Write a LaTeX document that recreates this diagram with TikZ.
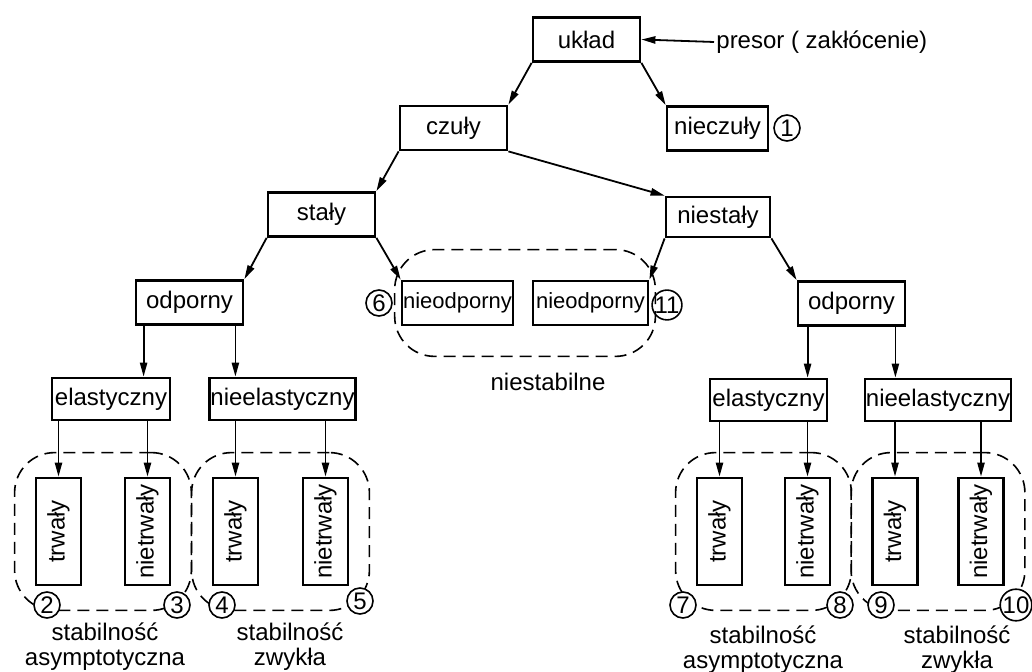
\documentclass[tikz,border=0pt]{standalone}
\usepackage{fontspec}
\setmainfont{Liberation Sans}
\usepackage{tikz}
\usetikzlibrary{arrows.meta,positioning,fit,calc}

\begin{document}
\begin{tikzpicture}[
  x=0.5pt, y=-0.5pt,
  font=\fontsize{12}{12.5}\selectfont,
  box/.style={rectangle, draw, line width=1.4pt, minimum width=#1, minimum height=22pt,
              inner sep=0.5pt, align=center},
  box/.default=53.5pt,
  vbox/.style={box=53.5pt, minimum height=22.5pt, rotate=90},
  num/.style={circle, draw, line width=0.8pt, minimum size=13pt, inner sep=0pt},
  a/.style={-{Triangle[length=7pt, width=3.6pt]}, line width=0.9pt},
  grp/.style={rectangle, draw, dash pattern=on 6pt off 3.5pt, line width=0.8pt,
              rounded corners=20pt},
  lab/.style={align=center, inner sep=1pt},
  tight/.style={font=\fontsize{11}{12}\selectfont},
]
\useasboundingbox (0,0) rectangle (1032,672);

% ---- top of the tree
\node[box] (uklad) at (586.5,39.5) {układ};
\node[lab, anchor=west] (presor) at (714,42) {presor ( zakłócenie)};
\draw[a] (presor.west) -- (uklad.east);

\node[box] (czuly) at (453.5,128) {czuły};
\node[box=50.5pt] (nieczuly) at (717.5,128.5) {nieczuły};
\node[num] (n1) at (787,128) {1};
\draw[a] (uklad.south west) -- (czuly.north east);
\draw[a] (uklad.south east) -- (nieczuly.north west);

\node[box] (staly) at (321.5,214.5) {stały};
\node[box=52pt, minimum height=20pt] (niestaly) at (718,217) {niestały};
\draw[a] (czuly.south west) -- (staly.north east);
\draw[a] (czuly.south east) -- (niestaly.north west);

% ---- odporny / nieodporny
\node[box] (odpL) at (189.5,302.5) {odporny};
\node[box=54.5pt, tight] (nieodpL) at (457.5,303) {nieodporny};
\node[box=57.5pt, tight] (nieodpR) at (590.5,303) {nieodporny};
\node[box] (odpR) at (851.5,303.5) {odporny};
\draw[a] (staly.south west) -- (odpL.north east);
\draw[a] (staly.south east) -- (nieodpL.north west);
\draw[a] (niestaly.south west) -- (nieodpR.north east);
\draw[a] (niestaly.south east) -- (odpR.north west);

\node[num] (n6) at (379,303) {6};
\node[num] (n11) at (667,305) {11};
\node[grp, fit=(nieodpL)(nieodpR), inner xsep=3pt, inner ysep=15pt] (gmid) {};
\node[lab] (niestab) at (548,382) {niestabilne};

% ---- elastyczny / nieelastyczny
\node[box=59pt, minimum height=21pt] (elaL) at (111,399) {elastyczny};
\node[box=69.5pt, minimum height=21pt] (nelaL) at (282.5,399) {nieelastyczny};
\node[box=58.5pt, minimum height=21pt] (elaR) at (768.5,400) {elastyczny};
\node[box=72pt, minimum height=21pt] (nelaR) at (938,400) {nieelastyczny};

\draw[a] ([xshift=4.5pt]odpL.south west) -- ([xshift=4.5pt]odpL.south west |- elaL.north);
\draw[a] ([xshift=-4.5pt]odpL.south east) -- ([xshift=-4.5pt]odpL.south east |- nelaL.north);
\draw[a] ([xshift=5.5pt]odpR.south west) -- ([xshift=5.5pt]odpR.south west |- elaR.north);
\draw[a] ([xshift=-5.5pt]odpR.south east) -- ([xshift=-5.5pt]odpR.south east |- nelaR.north);

% ---- trwały / nietrwały, one pair under each parent
\foreach \n/\x/\t/\p in {trwL1/58.5/trwały/elaL, nietL1/147.5/nietrwały/elaL,
                         trwL2/235.5/trwały/nelaL, nietL2/325.5/nietrwały/nelaL,
                         trwR1/719.5/trwały/elaR, nietR1/807.5/nietrwały/elaR,
                         trwR2/895/trwały/nelaR, nietR2/981/nietrwały/nelaR} {
  \node[vbox] (\n) at (\x,531.5) {\t};
  \draw[a] (\p.south -| \n.east) -- (\n.east);
}

\node[grp, fit=(trwL1)(nietL1), inner xsep=10pt, inner ysep=12pt] (gL1) {};
\node[grp, fit=(trwL2)(nietL2), inner xsep=10pt, inner ysep=12pt] (gL2) {};
\node[grp, fit=(trwR1)(nietR1), inner xsep=10pt, inner ysep=12pt] (gR1) {};
\node[grp, fit=(trwR2)(nietR2), inner xsep=10pt, inner ysep=12pt] (gR2) {};

\foreach \n/\x/\y in {2/47/605, 3/177/605, 4/222/605, 5/360/601,
                      7/683/605, 8/840/605, 9/881/605, 10/1016/605} {
  \node[num, fill=white] (n\n) at (\x,\y) {\n};
}

% ---- what each group means
\node[lab] (stabL1) at (105,647) {stabilność\\asymptotyczna};
\node[lab] (stabL2) at (290,647) {stabilność\\zwykła};
\node[lab] (stabR1) at (763,650) {stabilność\\asymptotyczna};
\node[lab] (stabR2) at (957,650) {stabilność\\zwykła};
\end{tikzpicture}
\end{document}
